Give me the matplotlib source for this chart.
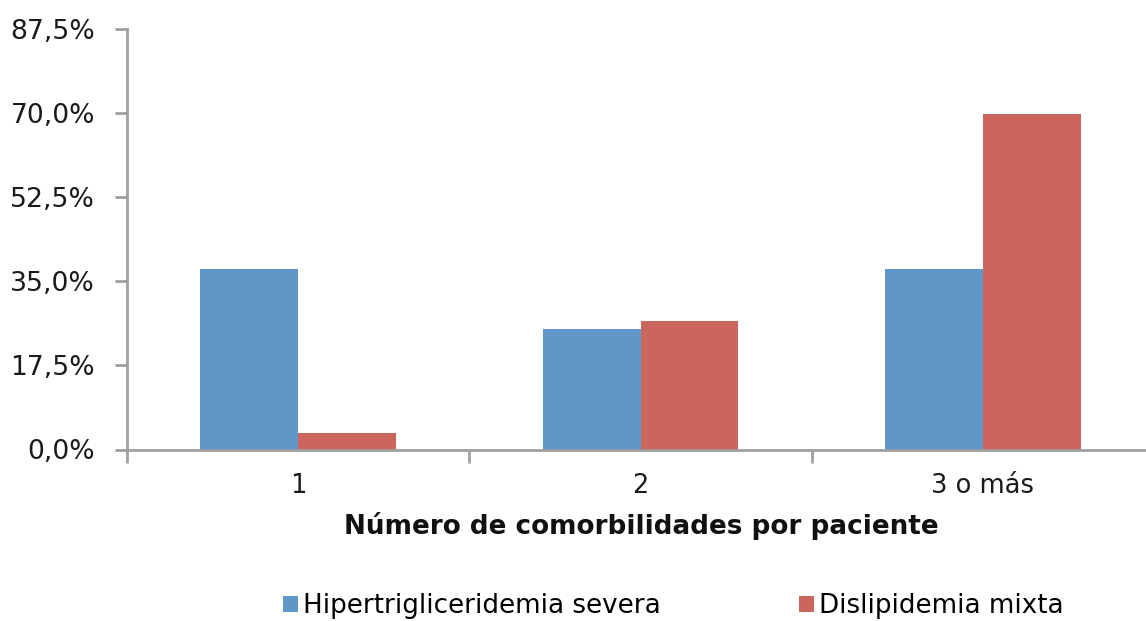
import matplotlib
matplotlib.use("Agg")
import matplotlib.pyplot as plt
import numpy as np
from matplotlib.ticker import FixedLocator, FuncFormatter

categories = ["1", "2", "3 o más"]
hipertrigliceridemia = [37.5, 25.0, 37.5]
dislipidemia = [3.5, 26.8, 69.8]
series_names = ["Hipertrigliceridemia severa", "Dislipidemia mixta"]
y_ticks = [0.0, 17.5, 35.0, 52.5, 70.0, 87.5]

blue = "#6196C8"
red = "#CB665F"
axis_grey = "#A0A0A0"
text_col = "#1a1a1a"

W, H, DPI = 1146, 621, 100
fig = plt.figure(figsize=(W / DPI, H / DPI), dpi=DPI)
left, right = 127 / W, 1154 / W
bottom, top = 1 - 449.5 / H, 1 - 29.3 / H
ax = fig.add_axes([left, bottom, right - left, top - bottom])

x = np.arange(len(categories))
bw = 0.286
ax.bar(x - bw / 2, hipertrigliceridemia, width=bw, color=blue, label=series_names[0])
ax.bar(x + bw / 2, dislipidemia, width=bw, color=red, label=series_names[1])

ax.set_xlim(-0.5, len(categories) - 0.5)
ax.set_ylim(0, 87.5)

for s in ["top", "right"]:
    ax.spines[s].set_visible(False)
for s in ["left", "bottom"]:
    ax.spines[s].set_color(axis_grey)
    ax.spines[s].set_linewidth(2)

ax.yaxis.set_major_locator(FixedLocator(y_ticks))
ax.yaxis.set_major_formatter(FuncFormatter(lambda v, p: f"{v:.1f}%".replace(".", ",")))
ax.tick_params(axis="y", length=9, width=2, color=axis_grey, labelsize=19.2, pad=14,
               labelcolor=text_col)

ax.set_xticks(x)
ax.set_xticklabels(categories)
ax.set_xticks(np.arange(len(categories) + 1) - 0.5, minor=True)
ax.tick_params(axis="x", which="major", length=0, labelsize=18.5, pad=17, labelcolor=text_col)
ax.tick_params(axis="x", which="minor", length=9, width=2, color=axis_grey)

ax.set_xlabel("Número de comorbilidades por paciente", fontsize=18.9, fontweight="bold",
              color="#111111")
ax.xaxis.set_label_coords((641 - 127) / (1154 - 127), -(512 - 449.5) / (449.5 - 29.3))

fig.legend(loc="center", bbox_to_anchor=(673.5 / W, 1 - 606 / H), ncol=2, frameon=False,
           fontsize=18.8, handlelength=0.57, handleheight=0.57, handletextpad=0.2,
           columnspacing=5.3, borderpad=0, borderaxespad=0)

fig.savefig("out.png", dpi=DPI)
